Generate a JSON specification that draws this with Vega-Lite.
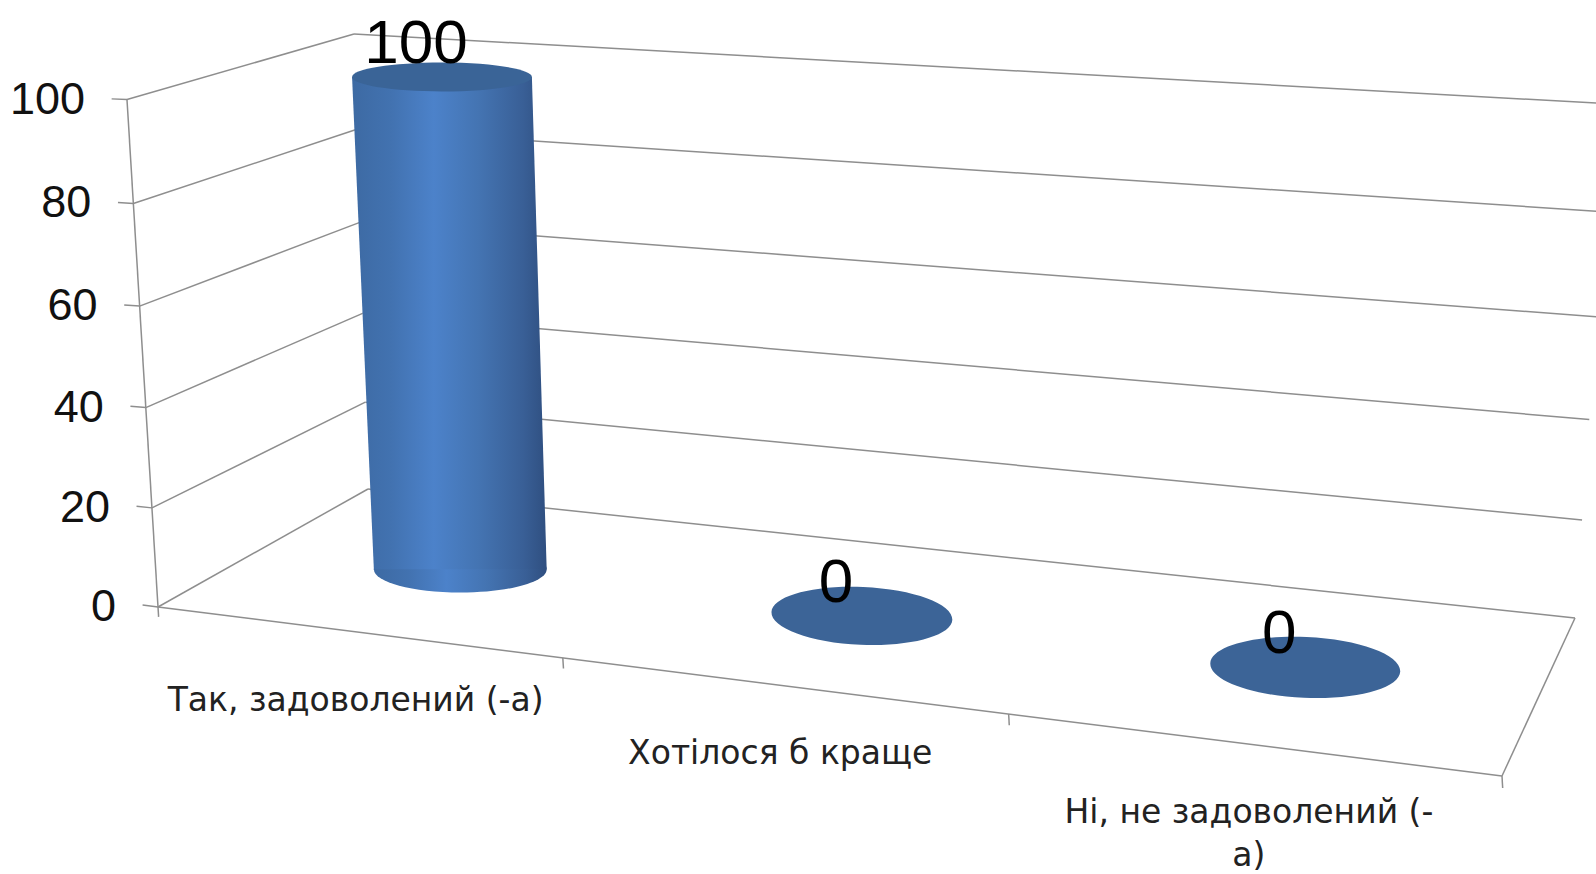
{"$schema":"https://vega.github.io/schema/vega-lite/v6.json","width":1596,"height":874,"padding":0,"autosize":{"type":"none"},"background":"white","config":{"view":{"stroke":null}},
"data":{"values":[
{"kind":"frame","line":"left","u":0,"d":0,"value":0},{"kind":"frame","line":"left","u":0,"d":0,"value":100},
{"kind":"frame","line":"w0","u":0,"d":0,"value":0},{"kind":"frame","line":"w0","u":0,"d":1,"value":0},
{"kind":"frame","line":"w20","u":0,"d":0,"value":20},{"kind":"frame","line":"w20","u":0,"d":1,"value":20},
{"kind":"frame","line":"w40","u":0,"d":0,"value":40},{"kind":"frame","line":"w40","u":0,"d":1,"value":40},
{"kind":"frame","line":"w60","u":0,"d":0,"value":60},{"kind":"frame","line":"w60","u":0,"d":1,"value":60},
{"kind":"frame","line":"w80","u":0,"d":0,"value":80},{"kind":"frame","line":"w80","u":0,"d":1,"value":80},
{"kind":"frame","line":"w100","u":0,"d":0,"value":100},{"kind":"frame","line":"w100","u":0,"d":1,"value":100},
{"kind":"frame","line":"b0","u":0,"d":1,"value":0},{"kind":"frame","line":"b0","u":3,"d":1,"value":0},
{"kind":"frame","line":"b20","u":0,"d":1,"value":20},{"kind":"frame","line":"b20","u":3,"d":1,"value":20},
{"kind":"frame","line":"b40","u":0,"d":1,"value":40},{"kind":"frame","line":"b40","u":3,"d":1,"value":40},
{"kind":"frame","line":"b60","u":0,"d":1,"value":60},{"kind":"frame","line":"b60","u":3,"d":1,"value":60},
{"kind":"frame","line":"b80","u":0,"d":1,"value":80},{"kind":"frame","line":"b80","u":3,"d":1,"value":80},
{"kind":"frame","line":"b100","u":0,"d":1,"value":100},{"kind":"frame","line":"b100","u":3,"d":1,"value":100},
{"kind":"frame","line":"front","u":0,"d":0,"value":0},{"kind":"frame","line":"front","u":3,"d":0,"value":0},
{"kind":"frame","line":"right","u":3,"d":0,"value":0},{"kind":"frame","line":"right","u":3,"d":1,"value":0},
{"kind":"frame","line":"t0","u":0,"d":0,"value":0},{"kind":"frame","line":"t0","u":0,"d":0,"value":-2},
{"kind":"frame","line":"t1","u":1,"d":0,"value":0},{"kind":"frame","line":"t1","u":1,"d":0,"value":-2},
{"kind":"frame","line":"t2","u":2,"d":0,"value":0},{"kind":"frame","line":"t2","u":2,"d":0,"value":-2},
{"kind":"frame","line":"t3","u":3,"d":0,"value":0},{"kind":"frame","line":"t3","u":3,"d":0,"value":-2},
{"kind":"frame","line":"y0","u":0,"d":0,"value":0},{"kind":"frame","line":"y0","u":-0.04,"d":0,"value":0},
{"kind":"frame","line":"y20","u":0,"d":0,"value":20},{"kind":"frame","line":"y20","u":-0.04,"d":0,"value":20},
{"kind":"frame","line":"y40","u":0,"d":0,"value":40},{"kind":"frame","line":"y40","u":-0.04,"d":0,"value":40},
{"kind":"frame","line":"y60","u":0,"d":0,"value":60},{"kind":"frame","line":"y60","u":-0.04,"d":0,"value":60},
{"kind":"frame","line":"y80","u":0,"d":0,"value":80},{"kind":"frame","line":"y80","u":-0.04,"d":0,"value":80},
{"kind":"frame","line":"y100","u":0,"d":0,"value":100},{"kind":"frame","line":"y100","u":-0.04,"d":0,"value":100},
{"kind":"ylabel","u":0,"d":0,"value":0},{"kind":"ylabel","u":0,"d":0,"value":20},{"kind":"ylabel","u":0,"d":0,"value":40},{"kind":"ylabel","u":0,"d":0,"value":60},{"kind":"ylabel","u":0,"d":0,"value":80},{"kind":"ylabel","u":0,"d":0,"value":100},
{"kind":"cat","category":"Так, задоволений (-а)","u":0.5,"d":0,"value":0},
{"kind":"cat","category":"Хотілося б краще","u":1.5,"d":0,"value":0},
{"kind":"cat","category":"Ні, не задоволений (-\nа)","u":2.5,"d":0,"value":0},
{"kind":"body","u":0.5,"d":0.53,"value":0},{"kind":"body","u":0.5,"d":0.53,"value":100},
{"kind":"bar","category":"Так, задоволений (-а)","u":0.5,"d":0.53,"value":100},
{"kind":"bar","category":"Хотілося б краще","u":1.5,"d":0.53,"value":0},
{"kind":"bar","category":"Ні, не задоволений (-\nа)","u":2.5,"d":0.53,"value":0}
]},
"transform":[
{"calculate":"(datum.u/3)/(datum.u/3+1.16*(1-datum.u/3))","as":"t"},
{"calculate":"(datum.value/100)/(datum.value/100+1.03*(1-datum.value/100))","as":"vf"},
{"calculate":"(datum.value/100)/(datum.value/100+1.06*(1-datum.value/100))","as":"vb"},
{"calculate":"(158+1344*datum.t)*(1-datum.vf)+(127+1340*datum.t)*datum.vf","as":"fx"},
{"calculate":"(607+169*datum.t)*(1-datum.vf)+(99.5+54.5*datum.t)*datum.vf","as":"fy"},
{"calculate":"(368+1207*datum.t)*(1-datum.vb)+(354+1258*datum.t)*datum.vb","as":"bx"},
{"calculate":"(489+129*datum.t)*(1-datum.vb)+(34+70*datum.t)*datum.vb","as":"by"},
{"calculate":"datum.fx*(1-datum.d)+datum.bx*datum.d+(datum.d>0&&datum.d<1?4:0)","as":"px"},
{"calculate":"datum.fy*(1-datum.d)+datum.by*datum.d+(datum.d>0&&datum.d<1?3:0)","as":"py"},
{"calculate":"169+26*datum.t+7*datum.value/100","as":"w"},
{"calculate":"datum.w*datum.w","as":"sz"},
{"calculate":"datum.px-datum.w/2","as":"pl"},
{"calculate":"datum.px+datum.w/2","as":"pr"}
],
"encoding":{
"x":{"field":"px","type":"quantitative","scale":{"domain":[0,1596],"range":[0,1596]},"axis":null},
"y":{"field":"py","type":"quantitative","scale":{"domain":[0,874],"range":[0,874]},"axis":null}
},
"layer":[
{"transform":[{"filter":"datum.kind=='frame'"}],"mark":{"type":"line","stroke":"#8e8e8e","strokeWidth":1.5,"clip":true},"encoding":{"detail":{"field":"line"}}},
{"transform":[{"filter":"datum.kind=='body'&&datum.value==0"}],"mark":{"type":"point","filled":true,"opacity":1,"shape":"M-1,0A1,0.27,0,1,1,1,0A1,0.27,0,1,1,-1,0Z","fill":{"gradient":"linear","x1":0,"x2":1,"y1":0,"y2":0,"stops":[{"offset":0,"color":"#3d6aa3"},{"offset":0.2,"color":"#4272b0"},{"offset":0.42,"color":"#4c82ca"},{"offset":0.65,"color":"#4474b2"},{"offset":0.88,"color":"#395f96"},{"offset":1,"color":"#2f4f80"}]}},"encoding":{"size":{"field":"sz","type":"quantitative","scale":null,"legend":null}}},
{"transform":[{"filter":"datum.kind=='body'"}],"mark":{"type":"area","orient":"horizontal","fill":{"gradient":"linear","x1":0,"x2":1,"y1":0,"y2":0,"stops":[{"offset":0,"color":"#3d6aa3"},{"offset":0.2,"color":"#4272b0"},{"offset":0.42,"color":"#4c82ca"},{"offset":0.65,"color":"#4474b2"},{"offset":0.88,"color":"#395f96"},{"offset":1,"color":"#2f4f80"}]}},"encoding":{"x":{"field":"pl","type":"quantitative","scale":{"domain":[0,1596],"range":[0,1596]},"axis":null},"x2":{"field":"pr"}}},
{"transform":[{"filter":"datum.kind=='body'&&datum.value==100"}],"mark":{"type":"point","filled":true,"opacity":1,"color":"#3a6497","shape":"M-1,0A1,0.16,0,1,1,1,0A1,0.16,0,1,1,-1,0Z"},"encoding":{"size":{"field":"sz","type":"quantitative","scale":null,"legend":null}}},
{"transform":[{"filter":"datum.kind=='bar'&&datum.value==0"}],"mark":{"type":"point","filled":true,"opacity":1,"color":"#3c6497","angle":2.5,"shape":"M-1,0A1,0.32,0,1,1,1,0A1,0.32,0,1,1,-1,0Z"},"encoding":{"size":{"field":"sz","type":"quantitative","scale":null,"legend":null}}},
{"transform":[{"filter":"datum.kind=='bar'"}],"mark":{"type":"text","font":"Liberation Sans","fontSize":62,"color":"#000000","dx":-26,"dy":-33,"baseline":"middle","align":"center"},"encoding":{"text":{"field":"value","type":"quantitative"}}},
{"transform":[{"filter":"datum.kind=='ylabel'"}],"mark":{"type":"text","font":"Liberation Sans","fontSize":45,"color":"#111111","dx":-42,"baseline":"middle","align":"right"},"encoding":{"text":{"field":"value","type":"quantitative"}}},
{"transform":[{"filter":"datum.kind=='cat'"}],"mark":{"type":"text","font":"DejaVu Sans","fontSize":33,"color":"#222222","dy":53,"baseline":"top","align":"center","lineBreak":"\n","lineHeight":43},"encoding":{"text":{"field":"category","type":"nominal"}}}
]}
